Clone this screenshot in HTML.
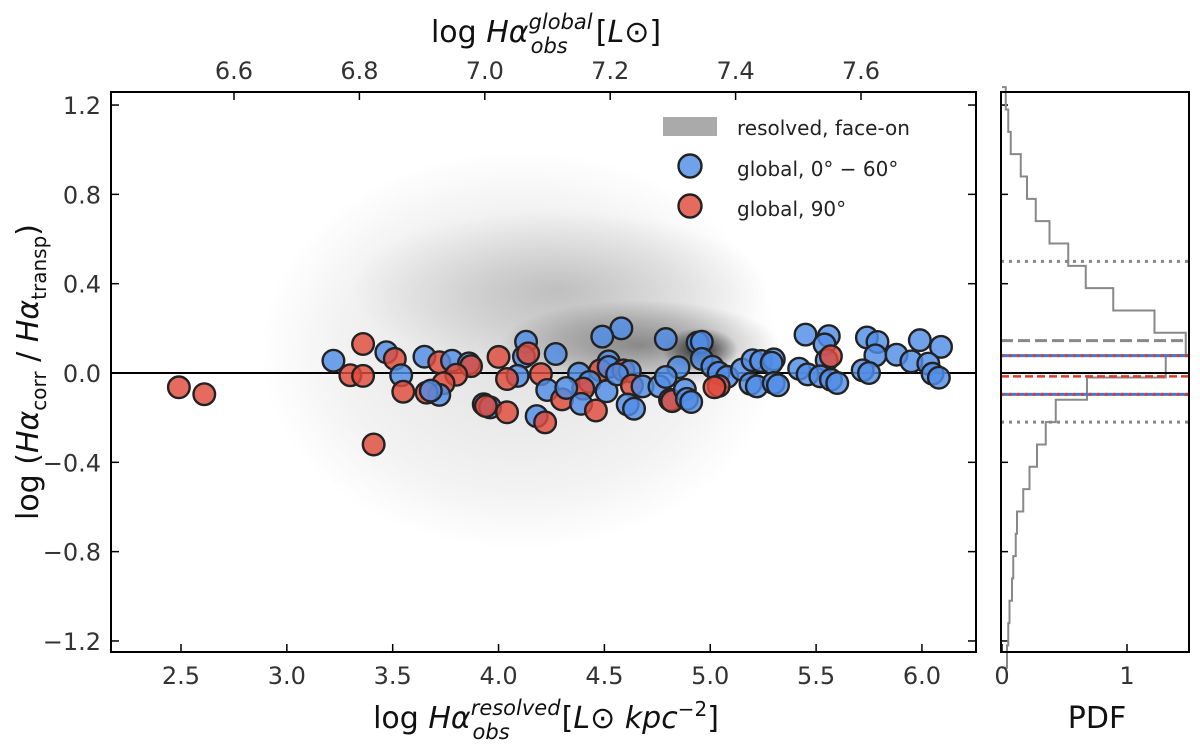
<!DOCTYPE html>
<html><head><meta charset="utf-8"><style>
body{margin:0;background:#fff}
svg{display:block;font-family:"DejaVu Sans","Liberation Sans",sans-serif}
</style></head><body>
<svg id="chart" width="1200" height="750" viewBox="0 0 1200 750" xmlns="http://www.w3.org/2000/svg" style="position:absolute;left:0;top:0">
<defs>
<radialGradient id="g1"><stop offset="0" stop-color="#000" stop-opacity="0.12"/><stop offset="0.7" stop-color="#000" stop-opacity="0.05"/><stop offset="1" stop-color="#000" stop-opacity="0"/></radialGradient>
<radialGradient id="gm"><stop offset="0" stop-color="#000" stop-opacity="0.18"/><stop offset="1" stop-color="#000" stop-opacity="0"/></radialGradient>
<radialGradient id="g2"><stop offset="0" stop-color="#000" stop-opacity="0.4"/><stop offset="0.6" stop-color="#000" stop-opacity="0.18"/><stop offset="1" stop-color="#000" stop-opacity="0"/></radialGradient>
<radialGradient id="g3"><stop offset="0" stop-color="#000" stop-opacity="0.8"/><stop offset="1" stop-color="#000" stop-opacity="0"/></radialGradient>
<clipPath id="mainclip"><rect x="111" y="92" width="865" height="560"/></clipPath>
</defs>
<g id="density" clip-path="url(#mainclip)">
<ellipse cx="520" cy="350" rx="260" ry="200" fill="url(#g1)"/>
<ellipse cx="560" cy="290" rx="210" ry="80" fill="url(#gm)"/>
<ellipse cx="640" cy="345" rx="140" ry="45" fill="url(#g2)"/>
<ellipse cx="700" cy="350" rx="38" ry="22" fill="url(#g3)"/>
</g>
<g id="main-layer"></g>
<g id="hist-layer"></g>
<g>
<rect x="663" y="117" width="54" height="19" fill="#aaa"/>
<text x="737" y="135" font-size="20" fill="#222">resolved, face-on</text>
<circle cx="690" cy="166" r="11.5" fill="rgba(80,140,230,0.82)" stroke="#222" stroke-width="2.4"/>
<text x="737" y="176" font-size="20" fill="#222">global, 0° − 60°</text>
<circle cx="690" cy="206" r="11.5" fill="rgba(225,75,60,0.82)" stroke="#222" stroke-width="2.4"/>
<text x="737" y="216" font-size="20" fill="#222">global, 90°</text>
</g>
<text x="546" y="42" text-anchor="middle" font-size="30" fill="#111">log <tspan font-style="italic">Hα</tspan><tspan font-style="italic" font-size="21" dy="-13">global</tspan><tspan font-style="italic" font-size="21" dx="-62" dy="24">obs</tspan><tspan dy="-11" dx="28">[<tspan font-style="italic">L</tspan>⊙]</tspan></text>
<text x="546" y="728" text-anchor="middle" font-size="30" fill="#111">log <tspan font-style="italic">Hα</tspan><tspan font-style="italic" font-size="21" dy="-13">resolved</tspan><tspan font-style="italic" font-size="21" dx="-88" dy="24">obs</tspan><tspan dy="-11" dx="52">[<tspan font-style="italic">L</tspan>⊙ <tspan font-style="italic">kpc</tspan><tspan font-size="20" dy="-12">−2</tspan><tspan dy="12">]</tspan></tspan></text>
<text transform="translate(38,372) rotate(-90)" text-anchor="middle" font-size="30" fill="#111">log (<tspan font-style="italic">Hα</tspan><tspan font-size="20" dy="8">corr</tspan><tspan dy="-8"> / </tspan><tspan font-style="italic">Hα</tspan><tspan font-size="20" dy="8">transp</tspan><tspan dy="-8">)</tspan></text>
<text x="1097" y="728" text-anchor="middle" font-size="30" fill="#111">PDF</text>
</svg>
<script>
const ptX=[2.49,2.61,3.22,3.36,3.30,3.36,3.47,3.51,3.54,3.55,3.65,3.72,3.78,3.86,3.87,3.80,3.74,3.72,3.66,3.68,4.00,4.13,4.12,4.14,4.27,4.09,4.04,4.20,4.23,4.30,3.93,3.96,3.94,4.04,4.18,4.22,3.41,4.58,4.49,4.79,4.94,4.96,4.96,5.01,5.04,5.08,4.85,5.04,5.02,5.15,5.20,5.24,5.30,5.29,5.19,5.22,5.30,5.32,4.52,4.48,4.52,4.59,4.62,4.38,4.43,4.40,4.32,4.51,4.56,4.63,4.68,4.39,4.46,4.61,4.64,4.76,4.79,4.81,4.82,4.88,4.89,4.91,5.45,5.56,5.54,5.55,5.57,5.42,5.46,5.52,5.57,5.60,5.74,5.79,5.78,5.72,5.75,5.88,5.99,6.09,5.95,6.03,6.05,6.08];
const ptY=[-0.064,-0.095,0.055,0.13,-0.01,-0.013,0.093,0.063,-0.01,-0.084,0.073,0.048,0.055,0.043,0.031,-0.008,-0.046,-0.098,-0.088,-0.079,0.072,0.14,0.073,0.088,0.085,-0.013,-0.027,-0.005,-0.076,-0.118,-0.14,-0.154,-0.148,-0.176,-0.193,-0.221,-0.32,0.20,0.163,0.152,0.136,0.14,0.063,0.028,0.001,-0.017,0.026,-0.058,-0.064,0.015,0.057,0.054,0.061,0.046,-0.048,-0.06,-0.045,-0.055,0.052,0.012,0.027,0.012,0.008,-0.003,-0.04,-0.07,-0.067,-0.082,-0.006,-0.056,-0.06,-0.138,-0.168,-0.141,-0.16,-0.06,-0.018,-0.12,-0.126,-0.075,-0.116,-0.13,0.172,0.165,0.128,0.057,0.075,0.019,-0.006,-0.015,-0.03,-0.045,0.159,0.139,0.079,0.012,0.0,0.082,0.147,0.117,0.052,0.042,-0.003,-0.021];
const ptGroup=["r","r","b","r","r","r","b","r","b","r","b","r","b","b","r","r","r","b","r","b","r","b","b","r","b","b","r","r","b","r","b","b","r","r","b","r","r","b","b","b","b","b","b","b","b","b","b","r","r","b","b","b","b","b","b","b","b","b","b","r","b","r","b","b","b","r","b","b","b","r","b","b","r","b","b","b","b","b","r","b","b","b","b","b","b","b","r","b","b","b","b","b","b","b","b","b","b","b","b","b","b","b","b","b"];
const xTicks=[2.5,3.0,3.5,4.0,4.5,5.0,5.5,6.0];
const xTickLabels=["2.5","3.0","3.5","4.0","4.5","5.0","5.5","6.0"];
const topTicks=[6.6,6.8,7.0,7.2,7.4,7.6];
const topTickLabels=["6.6","6.8","7.0","7.2","7.4","7.6"];
const yTicks=[1.2,0.8,0.4,0.0,-0.4,-0.8,-1.2];
const yTickLabels=["1.2","0.8","0.4","0.0","\u22120.4","\u22120.8","\u22121.2"];
const histEdges=[1.28,1.18,1.08,0.98,0.88,0.78,0.68,0.58,0.48,0.38,0.28,0.18,0.08,-0.02,-0.12,-0.22,-0.32,-0.42,-0.52,-0.62,-0.72,-0.82,-0.92,-1.02,-1.12,-1.22,-1.32];
const histPdf=[0.03,0.05,0.07,0.15,0.2,0.27,0.38,0.53,0.67,0.89,1.22,1.47,1.31,0.68,0.43,0.35,0.28,0.22,0.17,0.12,0.11,0.09,0.08,0.06,0.05,0.04];
const pdfTicks=[0,1];
const refLines=[{v:0.5,k:"dot"},{v:-0.22,k:"dot"},{v:0.145,k:"dash"},{v:0.078,k:"rb"},{v:-0.096,k:"rb"},{v:-0.015,k:"red"}];

const NS="http://www.w3.org/2000/svg";
const X0=111,X1=976,Y0=92,Y1=652,HX0=1001,HX1=1189;
const sx=v=>181+(v-2.5)*211.7;
const stx=v=>234+(v-6.6)*627;
const sy=v=>373-v*223.3;
const sp=v=>1002+v*125;
function mk(tag,attrs,parent){const e=document.createElementNS(NS,tag);for(const k in attrs)e.setAttribute(k,attrs[k]);parent.appendChild(e);return e;}
const M=document.getElementById('main-layer');
const H=document.getElementById('hist-layer');

let zl=mk('line',{x1:X0,x2:X1,y1:sy(0),y2:sy(0),stroke:'#000','stroke-width':2},M);



for(let i=0;i<ptX.length;i++){
  const c=mk('circle',{cx:sx(ptX[i]),cy:sy(ptY[i]),r:10.8,fill:ptGroup[i]==='b'?'rgba(80,140,230,0.82)':'rgba(225,75,60,0.82)',stroke:'#222','stroke-width':2.4},M);
  
  
}

let fr=mk('rect',{x:X0,y:Y0,width:X1-X0,height:Y1-Y0,fill:'none',stroke:'#000','stroke-width':2},M);



xTicks.forEach((v,i)=>{
  mk('line',{x1:sx(v),x2:sx(v),y1:Y1,y2:Y1-8,stroke:'#000','stroke-width':1.5},M);
  const t=mk('text',{x:sx(v),y:684,'text-anchor':'middle','font-size':24,fill:'#333'},M);
  t.textContent=xTickLabels[i];
  
  
});
topTicks.forEach((v,i)=>{
  mk('line',{x1:stx(v),x2:stx(v),y1:Y0,y2:Y0+8,stroke:'#000','stroke-width':1.5},M);
  const t=mk('text',{x:stx(v),y:79,'text-anchor':'middle','font-size':24,fill:'#333'},M);
  t.textContent=topTickLabels[i];
  
  
});
yTicks.forEach((v,i)=>{
  mk('line',{x1:X0,x2:X0+8,y1:sy(v),y2:sy(v),stroke:'#000','stroke-width':1.5},M);
  mk('line',{x1:X1,x2:X1-8,y1:sy(v),y2:sy(v),stroke:'#000','stroke-width':1.5},M);
  mk('line',{x1:HX0,x2:HX0+7,y1:sy(v),y2:sy(v),stroke:'#000','stroke-width':1.5},H);
  const t=mk('text',{x:101,y:sy(v)+9,'text-anchor':'end','font-size':24,fill:'#333'},M);
  t.textContent=yTickLabels[i];
  
  
});

let d='M'+sp(0)+','+sy(histEdges[0]);
for(let i=0;i<histPdf.length;i++){d+=' L'+sp(histPdf[i])+','+sy(histEdges[i])+' L'+sp(histPdf[i])+','+sy(histEdges[i+1]);}
d+=' L'+sp(0)+','+sy(histEdges[histEdges.length-1]);
let hp=mk('path',{d:d,fill:'none',stroke:'#888','stroke-width':2},H);


refLines.forEach(r=>{
  const y=sy(r.v);
  if(r.k==='dot')mk('line',{x1:HX0,x2:HX1,y1:y,y2:y,stroke:'#888','stroke-width':3,'stroke-dasharray':'3 5'},H);
  else if(r.k==='dash')mk('line',{x1:HX0,x2:HX1,y1:y,y2:y,stroke:'#888','stroke-width':3,'stroke-dasharray':'12 5'},H);
  else if(r.k==='rb'){mk('line',{x1:HX0,x2:HX1,y1:y,y2:y,stroke:'#3a7be0','stroke-width':3},H);mk('line',{x1:HX0,x2:HX1,y1:y,y2:y,stroke:'#e03a2a','stroke-width':3,'stroke-dasharray':'3 5'},H);}
  else mk('line',{x1:HX0,x2:HX1,y1:y,y2:y,stroke:'#e03a2a','stroke-width':2.5,'stroke-dasharray':'8 4'},H);
});
mk('line',{x1:HX0,x2:HX1,y1:sy(0),y2:sy(0),stroke:'#000','stroke-width':2},H);
let hf=mk('rect',{x:HX0,y:Y0,width:HX1-HX0,height:Y1-Y0,fill:'none',stroke:'#000','stroke-width':2},H);


pdfTicks.forEach(v=>{
  mk('line',{x1:sp(v),x2:sp(v),y1:Y1,y2:Y1-8,stroke:'#000','stroke-width':1.5},H);
  const t=mk('text',{x:sp(v),y:684,'text-anchor':'middle','font-size':24,fill:'#333'},H);
  t.textContent=String(v);
  
  
});
</script>
</body></html>
